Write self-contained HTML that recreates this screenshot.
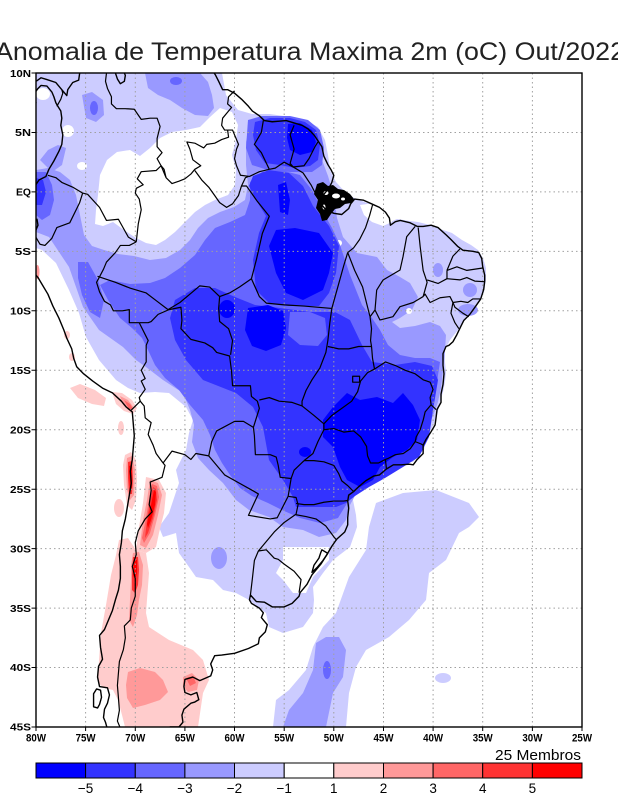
<!DOCTYPE html>
<html><head><meta charset="utf-8"><style>
html,body{margin:0;padding:0;background:#fff;}
svg{display:block;}
.m polyline,.m polygon{vector-effect:non-scaling-stroke;}
text{font-family:"Liberation Sans",sans-serif;}
</style></head><body>
<svg width="618" height="800" viewBox="0 0 618 800" xmlns="http://www.w3.org/2000/svg">
<defs><clipPath id="c"><rect x="36" y="73" width="546" height="654"/></clipPath></defs>
<rect width="618" height="800" fill="#fff"/>
<text x="-5" y="60" font-size="25" textLength="630" lengthAdjust="spacingAndGlyphs" fill="#222">Anomalia de Temperatura Maxima 2m (oC) Out/2022</text>
<g clip-path="url(#c)">
<!-- L1 light blue -->
<g fill="#ccccff">
<path d="M36,73 L222,73 L226,95 L238,110 L252,114 L270,114 L290,117 L305,120 L318,127 L325,140 L328,155 L330,170 L336,182 L345,192 L352,197 L367,203 L380,206 L386,214 L390,222 L397,219 L410,221 L418,222 L430,225 L440,229 L452,233 L462,240 L471,245 L478,250 L483,258 L486,268 L486,280 L484,292 L478,302 L471,311 L465,318 L458,330 L450,340 L445,350 L445,362 L446,372 L445,382 L443,392 L439,406 L437,416 L432,428 L427,436 L425,444 L424,450 L418,456 L413,462 L401,462 L386,467 L380,472 L366,479 L356,490 L353,500 L356,515 L357,527 L350,547 L333,560 L323,573 L313,587 L314,600 L313,613 L303,627 L283,633 L269,627 L266,613 L249,600 L236,593 L223,590 L213,580 L196,577 L189,567 L179,553 L176,533 L163,537 L159,527 L169,513 L179,483 L176,470 L186,450 L189,433 L193,420 L186,407 L169,393 L155,392 L140,393 L128,388 L116,380 L99,360 L86,337 L79,313 L69,290 L56,263 L42,250 L36,248 Z"/>
<path d="M376,503 L403,493 L436,490 L469,503 L479,517 L469,527 L459,533 L446,560 L429,573 L426,600 L409,620 L389,637 L366,650 L356,667 L349,693 L346,727 L273,727 L276,700 L289,690 L306,670 L313,647 L323,627 L336,613 L349,577 L366,550 L369,527 Z"/>
<ellipse cx="443" cy="678" rx="8" ry="5"/>
</g>
<!-- white holes -->
<g fill="#fff">
<path d="M100,175 L107,160 L117,152 L130,150 L140,156 L150,148 L160,138 L172,132 L186,130 L200,127 L210,117 L220,108 L232,112 L238,125 L236,140 L232,155 L236,170 L235,185 L228,195 L215,200 L205,205 L195,212 L185,222 L175,232 L165,240 L156,245 L146,243 L136,238 L124,230 L113,222 L103,226 L95,224 L96,210 L98,195 Z"/>
<ellipse cx="68" cy="131" rx="6" ry="6"/><ellipse cx="82" cy="166" rx="5" ry="4"/><ellipse cx="43" cy="94" rx="7" ry="6"/>
<path d="M283,547 L329,547 L329,560 L313,577 L306,593 L293,593 L283,580 L276,573 L283,560 Z"/>
<path d="M360,205 L375,203 L388,210 L392,222 L383,226 L372,222 L364,215 Z"/>
</g>
<!-- L2 -->
<g fill="#9999ff">
<path d="M36,170 L48,168 L60,172 L70,180 L76,195 L80,215 L84,235 L92,246 L104,250 L118,254 L134,256 L150,260 L166,258 L180,250 L190,240 L198,228 L208,218 L220,212 L234,207 L245,200 L248,185 L246,165 L246,142 L250,124 L260,118 L280,117 L300,120 L314,126 L320,140 L322,160 L328,176 L334,196 L337,218 L343,237 L357,253 L377,257 L387,270 L400,277 L410,283 L418,297 L412,310 L400,318 L392,322 L400,328 L415,326 L430,322 L440,326 L446,335 L445,350 L443,370 L441,388 L438,402 L433,416 L426,430 L418,442 L408,452 L396,460 L382,468 L368,478 L358,490 L350,505 L346,520 L336,533 L319,537 L303,530 L283,527 L269,517 L249,510 L236,500 L223,483 L209,470 L198,458 L192,442 L194,425 L190,410 L183,393 L163,380 L146,367 L136,360 L123,347 L99,330 L83,307 L69,267 L49,237 L36,232 Z"/>
<path d="M145,73 L200,73 L208,82 L212,95 L214,108 L208,116 L195,115 L182,108 L170,100 L158,95 L148,88 Z"/>
<path d="M82,95 L92,92 L103,100 L104,115 L96,122 L86,118 Z"/>
<path d="M40,160 L48,150 L58,145 L66,148 L62,165 L52,172 Z"/>
<ellipse cx="219" cy="558" rx="8" ry="11"/>
<ellipse cx="438" cy="270" rx="5" ry="7"/><ellipse cx="470" cy="290" rx="7" ry="7"/><ellipse cx="468" cy="310" rx="10" ry="6"/>
<path d="M283,727 L289,710 L303,693 L313,670 L316,643 L326,637 L339,637 L346,650 L343,677 L333,693 L326,727 Z"/>
</g>
<g fill="#fff"><circle cx="283" cy="213" r="4"/><circle cx="339" cy="243" r="3"/><circle cx="409" cy="311" r="3"/></g>
<!-- L3 -->
<g fill="#6666ff">
<path d="M250,182 L262,172 L280,170 L300,175 L312,190 L322,210 L332,228 L340,245 L345,260 L350,275 L356,290 L362,305 L372,318 L380,330 L388,345 L400,355 L415,358 L430,358 L440,362 L438,375 L437,385 L434,402 L428,418 L420,432 L410,443 L398,452 L384,460 L370,468 L360,478 L352,490 L346,505 L338,518 L320,523 L300,518 L282,510 L268,503 L252,496 L240,488 L230,475 L222,463 L215,450 L210,435 L203,420 L190,405 L179,390 L165,378 L155,365 L148,350 L142,338 L132,328 L120,318 L108,300 L100,285 L110,280 L130,284 L150,283 L165,278 L180,268 L195,255 L205,240 L215,228 L230,222 L245,215 L250,200 Z"/>
<path d="M248,120 L262,116 L290,116 L308,120 L320,130 L324,148 L322,165 L312,172 L290,172 L268,170 L252,165 L246,148 Z"/>
<path d="M78,262 L88,262 L98,280 L104,300 L100,318 L90,312 L82,295 L78,278 Z"/>
<path d="M36,172 L46,172 L52,185 L54,200 L50,215 L42,220 L36,215 Z"/>
<ellipse cx="94" cy="108" rx="4" ry="7"/><ellipse cx="176" cy="81" rx="6" ry="4"/>
<ellipse cx="327" cy="670" rx="4" ry="9"/>
</g>
<!-- L4 -->
<g fill="#3333ff">
<path d="M255,122 L270,118 L290,118 L305,122 L316,130 L320,145 L318,160 L310,166 L295,168 L280,165 L265,163 L256,150 L253,135 Z"/>
<path d="M253,176 L269,170 L289,173 L303,186 L313,206 L329,226 L339,246 L336,273 L329,293 L319,306 L289,306 L269,303 L256,290 L253,260 L259,233 L266,216 L256,200 L249,186 Z"/>
<path d="M175,300 L195,288 L215,288 L235,297 L255,305 L280,308 L310,312 L335,312 L350,320 L362,345 L372,362 L395,365 L415,362 L432,366 L438,380 L436,392 L433,410 L429,437 L419,457 L403,467 L385,478 L369,487 L355,496 L346,503 L336,507 L296,507 L293,497 L283,480 L269,460 L263,427 L253,407 L236,393 L203,380 L186,360 L175,340 L170,318 Z"/>
<path d="M36,178 L43,180 L46,192 L42,205 L36,205 Z"/>
</g>
<path fill="#6666ff" d="M290,312 L310,312 L325,318 L327,335 L318,346 L300,345 L288,335 Z"/>
<!-- L5 -->
<g fill="#0000ff">
<path d="M288,124 L300,123 L312,130 L316,142 L312,152 L300,155 L290,150 L287,138 Z"/>
<path d="M276,230 L295,228 L319,233 L333,253 L329,273 L323,290 L303,300 L286,293 L276,273 L269,246 Z"/>
<path d="M278,185 L286,182 L290,200 L288,215 L280,212 Z"/>
<path d="M248,308 L268,305 L283,311 L286,328 L281,345 L266,351 L252,346 L245,330 Z"/>
<path d="M323,420 L333,407 L347,393 L360,400 L377,397 L393,403 L403,393 L413,405 L420,420 L417,440 L407,450 L393,457 L380,467 L373,480 L360,487 L347,480 L340,467 L333,447 L323,437 Z"/>
<ellipse cx="227" cy="309" rx="8" ry="9"/>
<ellipse cx="305" cy="452" rx="6" ry="5"/>
</g>
<!-- pinks -->
<g fill="#ffcccc">
<path d="M70,388 L80,384 L95,390 L106,398 L104,406 L92,404 L78,398 Z"/>
<path d="M112,392 L122,393 L132,400 L137,408 L133,414 L124,411 L116,404 Z"/>
<path d="M125,455 L131,452 L136,460 L137,480 L136,500 L132,510 L127,505 L124,485 L123,465 Z"/>
<path d="M146,477 L159,480 L166,493 L164,513 L159,533 L156,547 L146,553 L136,550 L139,527 L143,503 Z"/>
<path d="M119,540 L128,538 L136,550 L146,553 L149,573 L146,613 L149,627 L169,640 L193,650 L203,660 L209,680 L203,693 L198,727 L125,727 L122,715 L118,700 L113,690 L104,688 L98,683 L99,660 L101,633 L106,605 L111,575 L116,555 Z"/>
<ellipse cx="119" cy="508" rx="5" ry="9"/><ellipse cx="121" cy="428" rx="3" ry="7"/>
<ellipse cx="67" cy="335" rx="3" ry="4"/><ellipse cx="72" cy="357" rx="3" ry="4"/>
</g>
<g fill="#ff9999">
<path d="M120,396 L128,400 L134,408 L130,411 L123,405 Z"/>
<path d="M127,458 L132,456 L135,470 L134,495 L130,500 L127,490 L126,470 Z"/>
<path d="M150,480 L158,483 L162,495 L158,515 L153,535 L146,548 L140,545 L143,520 L147,500 Z"/>
<path d="M133,553 L139,552 L143,565 L142,585 L139,600 L137,615 L133,627 L129,620 L130,600 L131,580 L131,565 Z"/>
<path d="M128,672 L140,668 L155,672 L163,680 L168,692 L160,700 L145,705 L133,708 L127,698 L126,685 Z"/>
<path d="M183,677 L192,673 L199,680 L197,690 L188,692 L183,686 Z"/>
<ellipse cx="37.5" cy="272" rx="2" ry="7"/>
</g>
<g fill="#ff6666">
<path d="M124,400 L130,404 L133,409 L129,409 Z"/>
<path d="M152,484 L157,486 L159,497 L155,515 L150,533 L144,543 L142,538 L146,518 L149,500 Z"/>
<path d="M186,678 L193,676 L196,683 L190,686 Z"/>
</g>
<g fill="#ff3333">
<path d="M128,462 L132,461 L133,480 L132,494 L129,494 L128,478 Z"/>
<path d="M153,487 L156,489 L157,500 L153,518 L148,533 L145,538 L147,520 L150,502 Z"/>
<path d="M133,557 L138,557 L139,570 L138,585 L135,593 L132,590 L132,575 Z"/>
</g>
<g fill="#ff0000">
<path d="M129,466 L132,465 L132,488 L130,490 Z"/>
<path d="M154,490 L156,492 L155,505 L151,520 L148,528 L147,524 L150,510 Z"/>
<path d="M134,560 L137,560 L137,573 L135,580 L133,575 Z"/>
</g>
<!-- grid -->
<g stroke="#a0a0a0" stroke-width="1" stroke-dasharray="1.5,3" fill="none">
<path d="M85.6,73V727M135.3,73V727M184.9,73V727M234.5,73V727M284.2,73V727M333.8,73V727M383.5,73V727M433.1,73V727M482.7,73V727M532.4,73V727"/>
<path d="M36,132.5H582M36,191.9H582M36,251.4H582M36,310.8H582M36,370.3H582M36,429.7H582M36,489.2H582M36,548.6H582M36,608.1H582M36,667.5H582"/>
</g>
<!-- Marajo cluster -->
<path fill="#000" d="M317,184 L323,182 L328,186 L333,185 L338,189 L344,190 L350,194 L354,199 L351,203 L345,204 L340,208 L335,209 L331,214 L327,220 L322,221 L320,214 L316,208 L318,200 L314,194 Z"/>
<g fill="#fff"><ellipse cx="336" cy="196" rx="4" ry="2.5"/><ellipse cx="326" cy="193" rx="2.5" ry="2"/><ellipse cx="343" cy="199" rx="2" ry="1.5"/><ellipse cx="324" cy="207" rx="1.5" ry="2.5"/></g>
<!-- map lines -->
<g class="m" transform="translate(36,73) scale(9.927,11.891) translate(80,10)" fill="none" stroke="#000" stroke-linejoin="round">
<g stroke-width="1.4">
<polyline points="-80.5,-9.2 -79.9,-9.35 -79.5,-9.6 -78.9,-9.45 -78.0,-9.2 -77.4,-8.6 -76.9,-8.1 -76.8,-8.6 -76.3,-9.2 -75.7,-9.4 -75.6,-10.0 -75.5,-10.5"/>
<polyline points="-80.5,-7.3 -80.0,-7.5 -80.4,-8.0 -79.8,-8.7 -79.5,-8.95 -78.9,-8.9 -78.4,-8.4 -78.2,-8.0 -78.0,-7.5 -77.8,-7.2 -77.5,-6.8 -77.4,-6.2 -77.5,-5.6 -77.3,-4.8 -77.4,-4.0 -77.7,-3.4 -78.2,-2.6 -78.7,-1.9 -79.0,-1.3 -79.7,-1.0 -80.1,-0.5 -80.1,0.1 -80.5,0.6 -80.9,1.2 -80.8,1.9 -80.9,2.3 -80.3,2.5 -79.9,2.3 -79.8,2.8 -80.1,3.4 -80.4,3.5 -81.1,4.1 -81.3,4.6 -81.1,5.2 -80.9,5.6 -81.1,6.0 -80.5,6.5 -79.8,7.2 -79.3,7.9 -78.8,8.6 -78.3,9.6 -77.7,10.6 -77.2,11.6 -76.9,12.3 -76.4,13.2 -76.2,14.0 -75.9,14.7 -75.2,15.3 -74.3,15.9 -73.3,16.5 -72.3,16.9 -71.4,17.6 -70.9,18.1 -70.3,18.5 -70.2,19.5 -70.1,20.5 -70.2,21.5 -70.3,22.5 -70.5,23.5 -70.4,24.5 -70.6,25.5 -70.8,26.5 -71.0,27.5 -71.3,28.5 -71.4,29.5 -71.6,30.5 -71.5,31.5 -71.5,32.5 -71.7,33.5 -72.0,34.3 -72.3,35.2 -72.7,36.0 -73.1,36.8 -73.6,37.3 -73.5,38.3 -73.3,39.3 -73.7,39.9 -73.8,40.8 -73.6,41.6 -72.8,41.7 -72.6,42.3 -72.8,43.0 -73.1,43.5 -73.2,44.2 -73.0,44.6 -72.7,45.5"/>
<polygon points="-73.9,41.8 -73.5,41.9 -73.4,42.5 -73.6,43.1 -73.8,43.4 -74.2,43.3 -74.2,42.2"/>
<polyline points="-67.0,45.5 -66.5,45.0 -65.6,45.0 -65.2,44.6 -65.3,44.0 -65.1,43.5 -64.4,43.0 -64.0,42.9 -63.6,42.7 -63.8,42.1 -64.4,42.3 -65.0,42.1 -65.1,41.6 -65.0,41.0 -64.2,40.8 -63.5,41.1 -62.4,40.7 -62.2,40.2 -62.4,39.7 -62.0,39.0 -61.3,38.95 -60.0,38.8 -58.6,38.4 -57.6,38.0 -57.5,37.5 -56.9,37.0 -56.7,36.4 -57.0,36.1 -57.3,35.8 -57.1,35.4 -57.5,35.0 -58.3,34.6 -58.5,34.3 -58.4,33.9 -57.8,34.45 -57.0,34.5 -56.2,34.9 -55.0,34.9 -54.2,34.6 -53.5,34.0 -53.4,33.7 -52.7,33.0 -52.2,32.2 -51.3,31.3 -50.7,30.5 -50.2,29.8 -49.7,29.2 -48.9,28.6 -48.6,28.0 -48.6,27.4 -48.5,26.6 -48.6,26.0 -48.5,25.5 -48.0,25.2 -47.5,24.8 -46.8,24.3 -46.0,23.9 -45.4,23.8 -44.7,23.3 -44.0,22.95 -43.2,22.95 -42.4,22.9 -42.0,22.95 -41.6,22.5 -41.0,22.0 -41.0,21.3 -40.7,20.8 -40.3,20.3 -39.8,19.6 -39.7,19.0 -39.6,18.3 -39.2,17.7 -39.2,17.0 -39.0,16.2 -38.9,15.3 -39.0,14.6 -39.0,13.6 -38.7,13.0 -38.4,12.9 -38.0,12.6 -37.6,12.0 -37.2,11.3 -36.9,10.8 -36.3,10.3 -35.7,9.6 -35.2,9.0 -34.9,8.2 -34.8,7.5 -34.8,7.0 -35.0,6.3 -35.1,5.6 -35.4,5.1 -36.0,5.0 -37.0,4.9 -37.5,4.6 -38.2,4.0 -38.7,3.6 -39.5,3.0 -40.2,2.8 -41.0,2.9 -41.6,2.9 -42.3,2.6 -43.3,2.4 -43.8,2.5 -44.3,2.8 -44.4,2.2 -44.8,1.7 -45.4,1.3 -46.2,1.0 -47.0,0.7 -47.9,0.6 -48.3,1.0 -48.5,1.4 -49.2,1.9 -50.0,1.8 -50.8,1.5 -51.3,1.0"/>
<polyline points="-51.6,0.8 -51.0,0.2 -50.5,-0.3 -50.2,-0.8 -50.0,-1.4 -50.3,-1.9 -50.6,-2.3 -51.0,-3.0 -51.2,-3.8 -51.6,-4.3 -52.0,-4.8 -52.6,-5.3 -53.2,-5.6 -54.0,-5.8 -54.8,-6.0 -55.5,-5.95 -56.2,-5.9 -57.0,-6.0 -57.5,-6.4 -58.2,-6.8 -58.6,-7.2 -59.3,-7.8 -60.0,-8.3 -60.7,-8.6 -61.2,-8.6 -61.6,-9.3 -61.9,-9.8 -62.2,-10.2"/>
<polyline points="-72.0,-10.0 -71.8,-9.5 -71.5,-9.1 -71.1,-9.3 -71.0,-9.8 -71.1,-10.0"/>
<polygon points="-51.2,30.1 -50.6,30.4 -51.1,31.0 -51.7,31.6 -52.2,32.0 -52.0,31.4 -51.5,30.8 -51.3,30.3"/>
</g>
<g stroke-width="1.2">
<polyline points="-77.9,-7.2 -77.5,-7.8 -77.3,-8.3 -77.4,-8.6"/>
<polyline points="-72.9,-10.0 -73.0,-9.3 -72.8,-8.7 -72.4,-8.0 -72.4,-7.4 -71.9,-7.0 -71.0,-7.0 -70.1,-6.95 -69.4,-6.1 -68.5,-6.2 -67.8,-6.2 -67.5,-5.5 -67.8,-4.5 -67.8,-3.8 -67.3,-3.3 -67.8,-2.8 -67.4,-2.2 -67.1,-1.9 -66.9,-1.2"/>
<polyline points="-60.0,-8.5 -60.6,-8.0 -60.7,-7.4 -60.3,-7.1 -60.6,-6.8 -61.2,-6.2 -61.3,-5.6 -61.0,-5.2 -60.7,-5.2"/>
<polyline points="-60.7,-5.2 -60.6,-4.6 -61.3,-4.4 -62.0,-4.1 -62.8,-4.0 -63.1,-3.7 -64.0,-4.1 -64.8,-4.2 -64.5,-3.6 -64.2,-2.7 -63.4,-2.2 -64.0,-1.9 -64.4,-1.5 -65.0,-1.1 -65.6,-0.9 -66.3,-0.7 -66.9,-1.2"/>
<polyline points="-66.9,-1.2 -67.4,-2.2 -67.9,-1.8 -69.4,-1.7 -69.8,-1.1 -69.2,-0.6 -69.9,-0.3 -70.0,0.1 -69.6,0.6 -69.4,1.5 -69.7,2.7 -69.9,4.2"/>
<polyline points="-69.9,4.2 -70.7,3.8 -71.7,2.3 -72.9,2.4 -73.6,1.3 -74.8,0.2 -75.3,0.1"/>
<polyline points="-75.3,0.1 -76.3,-0.4 -77.4,-0.8 -78.0,-1.2 -78.8,-1.4"/>
<polyline points="-75.3,0.1 -75.6,0.9 -76.6,2.6 -77.9,3.0 -78.4,3.9 -79.1,4.5 -79.6,4.4 -80.3,3.4"/>
<polyline points="-69.9,4.2 -70.6,4.5 -71.5,4.5 -72.0,5.1 -72.9,5.9 -73.2,6.5 -73.7,7.3 -73.9,7.6 -73.6,8.4 -73.1,9.2 -72.5,9.5 -72.2,10.0 -71.3,10.0 -70.6,9.9 -70.6,11.0 -69.6,11.0"/>
<polyline points="-69.6,11.0 -68.7,12.5 -68.9,12.9 -68.9,14.3 -69.4,15.0 -69.0,15.7 -69.4,15.9 -69.0,16.6 -69.6,17.3 -69.5,17.6 -70.4,18.35"/>
<polyline points="-69.5,17.6 -69.1,18.0 -69.0,19.0 -68.4,19.4 -68.7,20.4 -68.2,21.3 -67.9,22.0 -67.2,22.8"/>
<polyline points="-67.2,22.8 -67.0,23.0 -67.3,24.0 -68.5,24.4 -68.4,25.1 -68.6,26.3 -68.3,26.9 -69.0,27.5 -69.7,28.5 -70.0,29.5 -69.9,30.5 -70.3,31.5 -70.0,32.5 -70.0,33.3 -70.0,34.0 -70.4,35.0 -70.5,36.0 -71.1,36.5 -71.0,37.5 -71.2,38.5 -71.6,39.5 -71.7,40.5 -71.8,41.5 -71.7,42.5 -71.6,43.6 -71.8,44.5 -71.3,45.5"/>
<polyline points="-69.6,11.0 -68.7,11.0 -68.4,10.9 -67.7,10.3 -66.6,9.9 -65.4,9.7 -65.3,10.8 -65.4,11.5 -64.4,12.4 -63.0,12.7 -62.2,13.1 -61.8,13.5 -60.5,13.8 -60.3,15.1 -60.2,16.3 -58.4,16.3 -58.3,17.2 -57.7,17.6 -57.5,18.2 -57.8,19.0 -58.1,19.8"/>
<polyline points="-58.1,19.8 -59.1,19.3 -60.0,19.3 -61.8,20.1 -62.3,21.0 -62.6,22.2"/>
<polyline points="-62.6,22.2 -63.9,22.0 -64.4,22.5 -65.0,22.1 -66.3,21.8 -67.2,22.8"/>
<polyline points="-62.6,22.2 -61.0,23.8 -59.5,24.5 -58.0,25.2 -57.6,25.4 -58.6,27.2 -56.4,27.5 -55.7,27.4 -54.6,25.6"/>
<polyline points="-58.1,19.8 -58.0,20.5 -57.9,22.1 -56.4,22.1 -55.8,22.3 -55.6,23.0 -55.4,24.0 -54.3,24.1 -54.6,25.6"/>
<polyline points="-54.6,25.6 -53.8,25.7 -53.6,26.3 -53.8,27.1 -55.0,27.8 -56.0,28.6 -57.6,30.2"/>
<polyline points="-57.6,30.2 -56.8,30.1 -56.0,30.8 -55.6,30.9 -55.0,31.3 -54.0,31.9 -53.3,32.6 -53.5,33.7"/>
<polyline points="-57.6,30.2 -58.0,31.0 -58.2,32.5 -58.4,33.9"/>
<polyline points="-57.1,-6.0 -57.3,-5.0 -58.0,-4.0 -57.3,-3.3 -56.5,-1.9"/>
<polyline points="-56.5,-1.9 -57.5,-1.7 -58.5,-1.3 -59.4,-1.4 -59.8,-2.2 -60.0,-2.8 -59.8,-3.6 -59.6,-4.0 -60.2,-5.2 -60.7,-5.2"/>
<polyline points="-54.0,-5.6 -54.4,-4.8 -54.0,-3.6 -54.4,-2.4 -54.1,-2.1"/>
<polyline points="-56.5,-1.9 -55.9,-2.0 -55.0,-2.5 -54.1,-2.1"/>
<polyline points="-54.1,-2.1 -53.0,-2.2 -52.5,-2.8 -51.9,-3.8 -51.6,-4.2"/>
<!-- Brazil states -->
<polyline points="-54.5,-2.3 -53.1,-1.6 -52.3,-0.6 -51.5,0.7"/>
<polyline points="-64.0,-1.8 -63.3,-1.0 -62.6,-0.4 -62.0,0.3 -61.5,0.9 -60.8,1.3 -60.2,1.0 -59.6,0.3 -59.3,-0.5 -58.9,-1.2 -58.6,-1.3"/>
<polyline points="-59.3,-0.5 -58.8,-0.5 -57.7,0.8 -56.5,2.05 -57.2,3.5 -57.8,5.7 -58.3,7.3"/>
<polyline points="-58.3,7.3 -59.5,8.0 -60.5,8.5 -61.5,8.8"/>
<polyline points="-58.3,7.3 -57.5,8.8 -56.8,9.35 -55.0,9.5 -53.0,9.6 -50.2,9.8"/>
<polyline points="-61.5,8.8 -62.5,8.0 -63.5,7.9 -64.5,8.6 -65.5,9.3 -66.7,9.9"/>
<polyline points="-73.8,7.1 -72.0,7.6 -70.5,8.1 -68.9,8.5 -67.8,9.2 -66.7,9.9"/>
<polyline points="-61.5,8.8 -61.6,9.8 -61.5,10.9 -60.6,11.5 -60.2,12.5 -60.4,13.7"/>
<polyline points="-48.6,5.1 -49.0,6.2 -49.4,7.4 -49.8,8.6 -50.2,9.8"/>
<polyline points="-46.1,1.1 -46.4,2.0 -46.8,3.0 -47.4,4.0 -48.0,4.7 -48.6,5.1"/>
<polyline points="-48.6,5.1 -47.9,6.6 -47.1,8.0 -46.7,9.35 -46.35,10.5"/>
<polyline points="-41.8,2.9 -42.66,3.77 -43.03,5.45 -43.33,6.57 -45.04,7.41 -45.68,8.25 -45.85,9.93 -46.35,10.5"/>
<polyline points="-45.85,9.93 -45.35,10.77 -44.04,10.49 -43.33,9.65 -42.0,9.3 -41.0,8.8"/>
<polyline points="-41.5,3.0 -41.3,4.6 -41.0,6.6 -40.6,7.6 -40.8,8.2 -41.0,8.8"/>
<polyline points="-37.3,4.8 -38.0,5.4 -38.3,6.0 -38.6,6.6"/>
<polyline points="-38.6,6.6 -37.6,6.3 -36.6,6.6 -35.0,6.4"/>
<polyline points="-40.6,7.4 -39.5,7.7 -38.6,7.3 -37.3,7.4 -36.6,7.2 -35.8,7.5 -34.85,7.55"/>
<polyline points="-38.6,6.6 -38.6,7.3"/>
<polyline points="-35.2,9.0 -36.0,9.0 -36.5,9.3 -37.2,9.2 -38.0,9.3"/>
<polyline points="-38.0,9.3 -38.3,8.8 -39.3,8.9 -40.3,9.3 -40.8,8.6 -41.0,8.8"/>
<polyline points="-36.4,10.5 -37.0,10.2 -37.8,9.7 -38.0,9.3"/>
<polyline points="-37.4,11.5 -37.8,11.0 -38.2,10.2 -38.0,9.3"/>
<polyline points="-46.35,10.5 -46.2,11.5 -46.3,12.5 -46.2,13.0"/>
<polyline points="-50.6,13.0 -49.5,13.2 -48.5,13.2 -47.5,13.0 -46.2,13.0"/>
<polyline points="-50.2,9.8 -50.4,11.0 -50.6,12.5 -50.8,13.5 -51.4,14.8 -52.2,15.8 -52.8,16.7 -53.2,17.6 -53.2,18.0"/>
<polyline points="-53.2,18.0 -54.2,17.7 -55.5,17.6 -56.5,17.3 -57.5,17.5"/>
<polyline points="-46.2,13.0 -46.1,14.0 -45.9,14.9"/>
<polyline points="-45.9,14.9 -46.6,15.2 -47.3,15.9 -47.6,16.8 -48.2,17.6 -49.2,18.2 -50.2,18.8 -51.0,19.5"/>
<polyline points="-45.9,14.9 -44.8,14.3 -43.8,14.6 -42.8,15.0 -41.8,15.3 -41.0,15.8 -40.3,16.0 -40.0,16.6 -40.3,17.3 -40.2,17.9 -39.7,18.3"/>
<polyline points="-40.2,17.9 -40.8,18.5 -41.0,19.2 -41.3,20.0 -41.7,20.6 -41.8,21.0 -41.2,21.2 -41.0,21.3"/>
<polyline points="-41.8,21.0 -42.3,21.6 -43.0,22.0 -43.8,22.1 -44.5,22.4 -44.8,22.5 -44.7,23.3"/>
<polyline points="-44.8,22.5 -45.5,22.8 -46.3,22.8 -46.6,22.2 -46.7,21.4 -47.3,20.6 -48.0,20.1 -49.0,20.2 -50.0,19.9 -51.0,20.0"/>
<polyline points="-51.0,19.5 -52.0,18.8 -53.2,18.0"/>
<polyline points="-51.0,19.5 -51.0,20.0 -51.6,21.0 -52.1,22.0 -53.0,22.6"/>
<polyline points="-53.0,22.6 -52.0,22.6 -51.0,22.7 -50.0,23.0 -49.5,23.7 -49.2,24.3 -48.6,24.7 -48.0,25.2"/>
<polyline points="-53.0,22.6 -54.0,23.4 -54.3,24.1"/>
<polyline points="-53.8,26.2 -53.0,26.3 -52.0,26.3 -51.0,26.1 -50.0,26.0 -49.0,26.0 -48.6,25.95"/>
<polyline points="-53.8,27.15 -52.8,27.3 -51.8,27.5 -50.8,28.1 -50.0,29.0 -49.7,29.3"/>
<polygon points="-48.1,15.5 -47.4,15.5 -47.4,16.0 -48.1,16.0"/>
</g>
</g>
</g>
<!-- frame & ticks -->
<rect x="36" y="73" width="546" height="654" fill="none" stroke="#000" stroke-width="1.4"/>
<g stroke="#000" stroke-width="1">
<path d="M31.5,73H36M31.5,132.5H36M31.5,191.9H36M31.5,251.4H36M31.5,310.8H36M31.5,370.3H36M31.5,429.7H36M31.5,489.2H36M31.5,548.6H36M31.5,608.1H36M31.5,667.5H36M31.5,727H36"/>
<path d="M36,727V731M85.6,727V731M135.3,727V731M184.9,727V731M234.5,727V731M284.2,727V731M333.8,727V731M383.5,727V731M433.1,727V731M482.7,727V731M532.4,727V731M582,727V731"/>
</g>
<g font-size="10" font-weight="bold" text-anchor="end" fill="#000">
<text x="31" y="76.8" textLength="21" lengthAdjust="spacingAndGlyphs">10N</text>
<text x="31" y="136.2" textLength="16" lengthAdjust="spacingAndGlyphs">5N</text>
<text x="31" y="195.6" textLength="15" lengthAdjust="spacingAndGlyphs">EQ</text>
<text x="31" y="255.1" textLength="16" lengthAdjust="spacingAndGlyphs">5S</text>
<text x="31" y="314.5" textLength="21" lengthAdjust="spacingAndGlyphs">10S</text>
<text x="31" y="374" textLength="21" lengthAdjust="spacingAndGlyphs">15S</text>
<text x="31" y="433.4" textLength="21" lengthAdjust="spacingAndGlyphs">20S</text>
<text x="31" y="492.9" textLength="21" lengthAdjust="spacingAndGlyphs">25S</text>
<text x="31" y="552.3" textLength="21" lengthAdjust="spacingAndGlyphs">30S</text>
<text x="31" y="611.8" textLength="21" lengthAdjust="spacingAndGlyphs">35S</text>
<text x="31" y="671.2" textLength="21" lengthAdjust="spacingAndGlyphs">40S</text>
<text x="31" y="730.7" textLength="21" lengthAdjust="spacingAndGlyphs">45S</text>
</g>
<g font-size="11" font-weight="bold" text-anchor="middle" fill="#000">
<text x="36" y="741.5" textLength="20" lengthAdjust="spacingAndGlyphs">80W</text>
<text x="85.6" y="741.5" textLength="20" lengthAdjust="spacingAndGlyphs">75W</text>
<text x="135.3" y="741.5" textLength="20" lengthAdjust="spacingAndGlyphs">70W</text>
<text x="184.9" y="741.5" textLength="20" lengthAdjust="spacingAndGlyphs">65W</text>
<text x="234.5" y="741.5" textLength="20" lengthAdjust="spacingAndGlyphs">60W</text>
<text x="284.2" y="741.5" textLength="20" lengthAdjust="spacingAndGlyphs">55W</text>
<text x="333.8" y="741.5" textLength="20" lengthAdjust="spacingAndGlyphs">50W</text>
<text x="383.5" y="741.5" textLength="20" lengthAdjust="spacingAndGlyphs">45W</text>
<text x="433.1" y="741.5" textLength="20" lengthAdjust="spacingAndGlyphs">40W</text>
<text x="482.7" y="741.5" textLength="20" lengthAdjust="spacingAndGlyphs">35W</text>
<text x="532.4" y="741.5" textLength="20" lengthAdjust="spacingAndGlyphs">30W</text>
<text x="582" y="741.5" textLength="20" lengthAdjust="spacingAndGlyphs">25W</text>
</g>
<text x="495" y="760" font-size="14.5" textLength="86" lengthAdjust="spacingAndGlyphs" fill="#000">25 Membros</text>
<!-- colorbar -->
<g stroke="#000" stroke-width="1">
<rect x="36" y="763" width="49.6" height="15" fill="#0000ff"/>
<rect x="85.6" y="763" width="49.7" height="15" fill="#3333ff"/>
<rect x="135.3" y="763" width="49.6" height="15" fill="#6666ff"/>
<rect x="184.9" y="763" width="49.6" height="15" fill="#9999ff"/>
<rect x="234.5" y="763" width="49.7" height="15" fill="#ccccff"/>
<rect x="284.2" y="763" width="49.6" height="15" fill="#ffffff"/>
<rect x="333.8" y="763" width="49.7" height="15" fill="#ffcccc"/>
<rect x="383.5" y="763" width="49.6" height="15" fill="#ff9999"/>
<rect x="433.1" y="763" width="49.6" height="15" fill="#ff6666"/>
<rect x="482.7" y="763" width="49.7" height="15" fill="#ff3333"/>
<rect x="532.4" y="763" width="49.6" height="15" fill="#ff0000"/>
</g>
<g font-size="13.5" text-anchor="middle" fill="#000">
<text x="85.6" y="793">−5</text>
<text x="135.3" y="793">−4</text>
<text x="184.9" y="793">−3</text>
<text x="234.5" y="793">−2</text>
<text x="284.2" y="793">−1</text>
<text x="333.8" y="793">1</text>
<text x="383.5" y="793">2</text>
<text x="433.1" y="793">3</text>
<text x="482.7" y="793">4</text>
<text x="532.4" y="793">5</text>
</g>
</svg>
</body></html>
